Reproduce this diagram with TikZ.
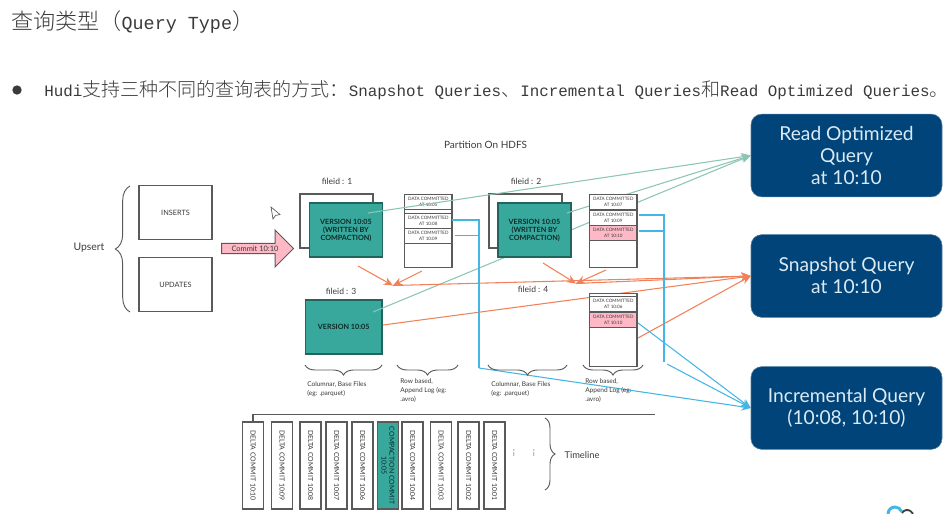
\documentclass[tikz,border=0pt]{standalone}
\usepackage{fontspec}
\setmainfont{Lato}
\setmonofont{Liberation Mono}
\newfontfamily\cjk[Scale=1.2]{Noto Sans CJK SC Light}
\usetikzlibrary{arrows.meta,shapes.arrows,decorations.pathreplacing}
\definecolor{ink}{HTML}{3A3A3A}
\definecolor{edgegray}{HTML}{5A5A5A}
\definecolor{tealbox}{HTML}{38A89D}
\definecolor{pinkrow}{HTML}{FFB9C6}
\definecolor{querybox}{HTML}{00447A}
\definecolor{querytext}{HTML}{DCEAF3}
\definecolor{roline}{HTML}{8CC5B2}
\definecolor{snapline}{HTML}{F1815A}
\definecolor{incline}{HTML}{45B6E4}
\newcommand{\fs}[2]{\fontsize{#1}{#2}\selectfont}
\tikzset{
  plainbox/.style={draw=edgegray, line width=.9pt, fill=white, minimum width=54.75pt, minimum height=40.5pt, inner sep=0pt},
  basebox/.style={plainbox, fill=tealbox, draw=tealbox!60!black, align=center, text=black!75!tealbox, font=\fs{5.4}{6}\bfseries},
  logbox/.style={draw=edgegray, line width=.9pt, fill=white, minimum width=35.6pt, inner sep=0pt, anchor=north west},
  logrow/.style={logbox, minimum height=11.4pt, align=center, text=ink, font=\fs{3.4}{4.6}},
  newrow/.style={logrow, fill=pinkrow},
  commitbox/.style={draw=edgegray, line width=.9pt, fill=white, rotate=-90, minimum width=65.25pt, minimum height=15.75pt, inner sep=0pt, align=center, text=ink, font=\fs{5.2}{5.8}},
  querynode/.style={rounded corners=8pt, fill=querybox, draw=querybox!70!white, minimum width=143.25pt, minimum height=62pt, align=center, text=querytext, font=\fs{14.4}{16.5}},
  label/.style={text=ink, inner sep=0pt, font=\fs{6.4}{8}},
  note/.style={text=ink, inner sep=0pt, anchor=north west, align=left, font=\fs{4.9}{6.9}},
  bracemark/.style={draw=edgegray, line width=.7pt, decorate, decoration={brace, amplitude=#1}},
  rotip/.style={->, roline, line width=.8pt},
  snaptip/.style={->, snapline, line width=.8pt},
  inctip/.style={->, incline, line width=.8pt},
  incbar/.style={incline, line width=1.1pt}
}
\begin{document}
\begin{tikzpicture}[x=.75pt, y=-.75pt, >={Stealth[length=7pt,width=6pt]}]
    \useasboundingbox (0, 0) rectangle (951, 514);

    % heading
    \node[anchor=west, inner sep=0pt, text=ink, font=\ttfamily\fs{13.8}{16}] (title) at (11, 22)
        {{\cjk 查询类型（}Query Type{\cjk ）}};
    \node[circle, fill=ink, minimum size=7pt, inner sep=0pt] (dot) at (17, 90) {};
    \node[anchor=west, inner sep=0pt, text=ink, font=\ttfamily\fs{11.9}{14}] (intro) at (44, 90)
        {Hudi{\cjk 支持三种不同的查询表的方式：}Snapshot Queries{\cjk 、}Incremental Queries{\cjk 和}Read Optimized Queries{\cjk 。}};

    % queries
    \node[querynode] (roquery) at (846.5, 155.5) {Read Optimized\\Query\\at 10:10};
    \node[querynode] (snapquery) at (846.5, 276) {Snapshot Query\\at 10:10};
    \node[querynode] (incquery) at (846.5, 408) {Incremental Query\\(10:08, 10:10)};

    % upsert side
    \node[label, font=\fs{7.8}{9}] (upsert) at (89, 248) {Upsert};
    \draw[bracemark=11pt] (130, 312) -- (130, 186);
    \node[plainbox, text=ink, font=\fs{5.5}{6}] (inserts) at (175.5, 212.5) {INSERTS};
    \node[plainbox, text=ink, font=\fs{5.5}{6}] (updates) at (175.5, 284.5) {UPDATES};
    \node[single arrow, draw=edgegray, line width=.7pt, fill=pinkrow, text=ink, inner sep=0pt,
          minimum height=54pt, minimum width=27.75pt, single arrow head extend=6.4pt,
          font=\fs{5.6}{7}] (commit) at (255, 248.5) {Commit 10:10};

    \node[label, font=\fs{7.5}{9}] (partition) at (485.5, 145) {Partition On HDFS};
    \node[label] (idone) at (337, 181) {fileid : 1};
    \node[label] (idtwo) at (526, 181) {fileid : 2};
    \node[label] (idthree) at (341, 291) {fileid : 3};
    \node[label] (idfour) at (533, 289) {fileid : 4};

    % file group 1 and 3
    \node[plainbox] (back1) at (336.5, 221) {};
    \node[basebox] (base1) at (346, 230) {VERSION 10:05\\(WRITTEN BY\\COMPACTION)};
    \node[basebox, minimum width=57.4pt] (base3) at (343.75, 327) {VERSION 10:05};

    \node[logbox, minimum height=54.75pt] (log1) at (404, 194) {};
    \node[logrow] (log1a) at (404, 194) {DATA COMMITTED\\AT 10:05};
    \node[logrow] (log1b) at (404, 213) {DATA COMMITTED\\AT 10:08};
    \node[logrow] (log1c) at (404, 228) {DATA COMMITTED\\AT 10:09};

    % green lines, the last one runs behind file group 2
    \coordinate (rostart3) at (373, 312);
    \draw[rotip] (rostart3) -- (roquery.west);

    % file group 2
    \node[plainbox] (back2) at (525.5, 221) {};
    \node[basebox] (base2) at (534.5, 230) {VERSION 10:05\\(WRITTEN BY\\COMPACTION)};

    \coordinate (rostart1) at (368, 213);
    \coordinate (rostart2) at (567, 213);
    \draw[rotip] (rostart1) -- (roquery.west);
    \draw[rotip] (rostart2) -- (roquery.west);

    % orange lines
    \coordinate (merge1) at (393, 285.5);
    \coordinate (merge2) at (576, 283.5);
    \coordinate (from1) at (358, 266);
    \coordinate (from2) at (422, 271);
    \coordinate (from3) at (543, 263);
    \coordinate (from4) at (606, 270);
    \coordinate (from5) at (383, 325);
    \coordinate (from6) at (638, 338);
    \draw[snaptip] (from1) -- (merge1);
    \draw[snaptip] (from2) -- (merge1);
    \draw[snaptip] (from3) -- (merge2);
    \draw[snaptip] (from4) -- (merge2);
    \draw[snaptip] (merge1) -- (snapquery.west);
    \draw[snaptip] (merge2) -- (snapquery.west);
    \draw[snaptip] (from5) -- (snapquery.west);

    % file group 2 and 4 logs
    \node[logbox, minimum height=54.75pt] (log2) at (589, 194) {};
    \node[logrow] (log2a) at (589, 194) {DATA COMMITTED\\AT 10:07};
    \node[logrow] (log2b) at (589, 210) {DATA COMMITTED\\AT 10:09};
    \node[newrow] (log2c) at (589, 224.5) {DATA COMMITTED\\AT 10:10};

    \node[logbox, minimum height=54.75pt] (log4) at (589, 292.5) {};
    \node[logrow] (log4a) at (589, 296) {DATA COMMITTED\\AT 10:06};
    \node[newrow] (log4b) at (589, 311.5) {DATA COMMITTED\\AT 10:10};
    \draw[snaptip] (from6) -- (snapquery.west);

    % blue lines
    \coordinate (inca) at (452, 220);
    \coordinate (incb) at (455, 235.5);
    \coordinate (incc) at (479, 220);
    \coordinate (incd) at (479, 368);
    \coordinate (ince) at (639, 215);
    \coordinate (incf) at (639, 231);
    \coordinate (incg) at (664, 215);
    \coordinate (inch) at (664, 362);
    \coordinate (inci) at (667, 364);
    \coordinate (incj) at (638, 323);
    \draw[incbar] (inca) -- (incc) -- (incd);
    \draw[incbar] (incb) -- (479, 235.5);
    \draw[inctip] (incd) -- (incquery.west);
    \draw[incbar] (ince) -- (incg) -- (inch);
    \draw[incbar] (incf) -- (664, 231);
    \draw[inctip] (inci) -- (incquery.west);
    \draw[inctip] (incj) -- (incquery.west);

    % braces below the files
    \draw[bracemark=7.5pt] (382, 365) -- (305, 365);
    \draw[bracemark=7.5pt] (458, 365) -- (397, 365);
    \draw[bracemark=7.5pt] (567, 365) -- (488, 365);
    \draw[bracemark=7.5pt] (643, 365) -- (583, 365);
    \node[note] (notea) at (307, 381) {Columnar, Base Files\\(eg: .parquet)};
    \node[note] (noteb) at (400, 378) {Row based,\\Append Log (eg:\\.avro)};
    \node[note] (notec) at (491, 381) {Columnar, Base Files\\(eg: .parquet)};
    \node[note] (noted) at (585, 378) {Row based,\\Append Log (eg:\\.avro)};

    % timeline
    \foreach \n/\x/\t in {1/253/10:10, 2/282/10:09, 3/310.5/10:08, 4/336.5/10:07, 5/362.5/10:06,
                          7/412.5/10:04, 8/441/10:03, 9/468.5/10:02, 10/494.5/10:01}
      \node[commitbox] (delta\n) at (\x, 465.5) {DELTA COMMIT \t};
    \node[commitbox, fill=tealbox, text=black!75!tealbox] (delta6) at (388, 465.5) {COMPACTION COMMIT\\10:05};
    \node[label, rotate=90] (gapa) at (514, 453) {...};
    \node[label, rotate=90] (gapb) at (534, 453) {...};
    \coordinate (timeend) at (655, 414.5);
    \draw[draw=edgegray, line width=.9pt] (delta1.west) |- (timeend);
    \draw[bracemark=7.5pt] (545, 418) -- (545, 490);
    \node[label, font=\fs{7}{9}] (timeline) at (582, 455) {Timeline};

    % mouse pointer and corner logo
    \draw[edgegray, line width=.5pt, fill=white] (271, 207) -- (273, 219) -- (275.5, 215.5) -- (280, 214.5) -- cycle;
    \draw[incline, line width=2.2pt] (888, 514) arc (180:340:7);
    \draw[black!75, line width=1.4pt] (902, 513) arc (210:360:6);
  \end{tikzpicture}
\end{document}
